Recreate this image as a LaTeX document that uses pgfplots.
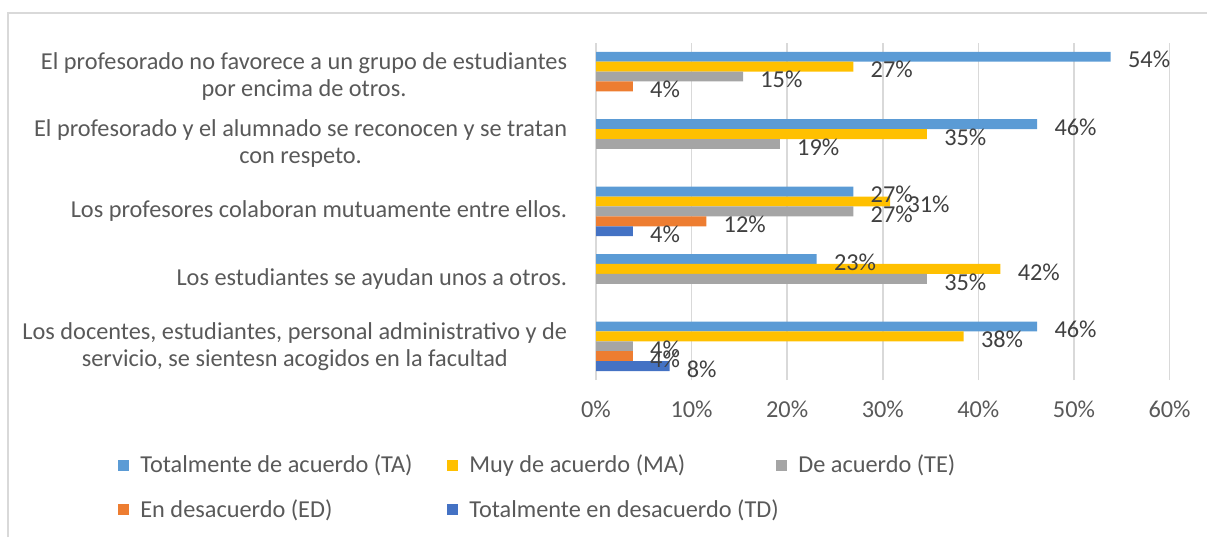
\documentclass[border=0pt]{standalone}
\usepackage{fontspec}
\setmainfont{Carlito}
\usepackage{pgfplots}
\pgfplotsset{compat=1.18}
\definecolor{cTA}{HTML}{5B9BD5}
\definecolor{cMA}{HTML}{FFC000}
\definecolor{cTE}{HTML}{A5A5A5}
\definecolor{cED}{HTML}{ED7D31}
\definecolor{cTD}{HTML}{4472C4}
\definecolor{gridc}{HTML}{D9D9D9}
\definecolor{txt}{HTML}{595959}
\definecolor{lbl}{HTML}{404040}
\newcommand{\cf}{\fontsize{12.2}{13.5}\selectfont}
\newcommand{\legtxt}[1]{\makebox[155bp][l]{\hspace*{3.5bp}#1}}
\begin{document}
\begin{tikzpicture}[x=1bp,y=1bp]
\path[use as bounding box] (0,0) rectangle (603.5,268.5);
\draw[gridc, line width=0.75bp] (4,0) -- (4,262) -- (603.5,262);
\begin{axis}[
  at={(298bp,78.5bp)}, anchor=south west,
  scale only axis, width=286.75bp, height=168.6bp,
  xbar, bar width=4.95bp,
  xmin=0, xmax=60, ymin=-0.5, ymax=4.5,
  /pgf/number format/assume math mode=true,
  xtick={0,10,...,60},
  xticklabel={\pgfmathprintnumber{\tick}\%},
  xticklabel style={font=\cf, text=txt, anchor=north, inner sep=0pt, text height=7.5bp, text depth=0pt, yshift=-11.25bp},
  ytick={0,1,2,3,4},
  yticklabels={{Los docentes, estudiantes, personal administrativo y de\\servicio, se sientesn acogidos en la facultad},
               {Los estudiantes se ayudan unos a otros.},
               {Los profesores colaboran mutuamente entre ellos.},
               {El profesorado y el alumnado se reconocen y se tratan\\con respeto.},
               {El profesorado no favorece a un grupo de estudiantes\\por encima de otros.}},
  yticklabel style={align=center, font=\cf, text=txt, inner sep=0pt, xshift=-10bp},
  axis line style={draw=none},
  tick style={draw=none},
  xmajorgrids, grid style={gridc, line width=0.75bp},
  point meta=x,
  nodes near coords={\pgfmathprintnumber[fixed,precision=0]{\pgfplotspointmeta}\%},
  nodes near coords style={font=\cf, text=lbl, anchor=west, inner sep=0pt, xshift=8.5bp, yshift=-1.5bp},
  legend columns=3,
  legend style={draw=none, fill=none, at={(axis description cs:-0.8335,-0.3188)}, anchor=west, inner sep=0pt,
    font=\cf, text=txt, row sep=8bp},
  legend image code/.code={\fill[#1,draw=none] (0bp,-2.75bp) rectangle (5.5bp,2.75bp);},
]
\addplot[fill=cTA, draw=none, bar shift=9.9bp] coordinates {(46.15,0) (23.08,1) (26.92,2) (46.15,3) (53.85,4)};
\addlegendentry{\legtxt{Totalmente de acuerdo (TA)}}
\addplot[fill=cMA, draw=none, bar shift=4.95bp] coordinates {(38.46,0) (42.31,1) (30.77,2) (34.62,3) (26.92,4)};
\addlegendentry{\legtxt{Muy de acuerdo (MA)}}
\addplot[fill=cTE, draw=none, bar shift=0bp] coordinates {(3.85,0) (34.62,1) (26.92,2) (19.23,3) (15.38,4)};
\addlegendentry{\legtxt{De acuerdo (TE)}}
\addplot[fill=cED, draw=none, bar shift=-4.95bp] coordinates {(3.85,0) (11.54,2) (3.85,4)};
\addlegendentry{\legtxt{En desacuerdo (ED)}}
\addplot[fill=cTD, draw=none, bar shift=-9.9bp] coordinates {(7.69,0) (3.85,2)};
\addlegendentry{\legtxt{Totalmente en desacuerdo (TD)}}
\end{axis}
\end{tikzpicture}
\end{document}
